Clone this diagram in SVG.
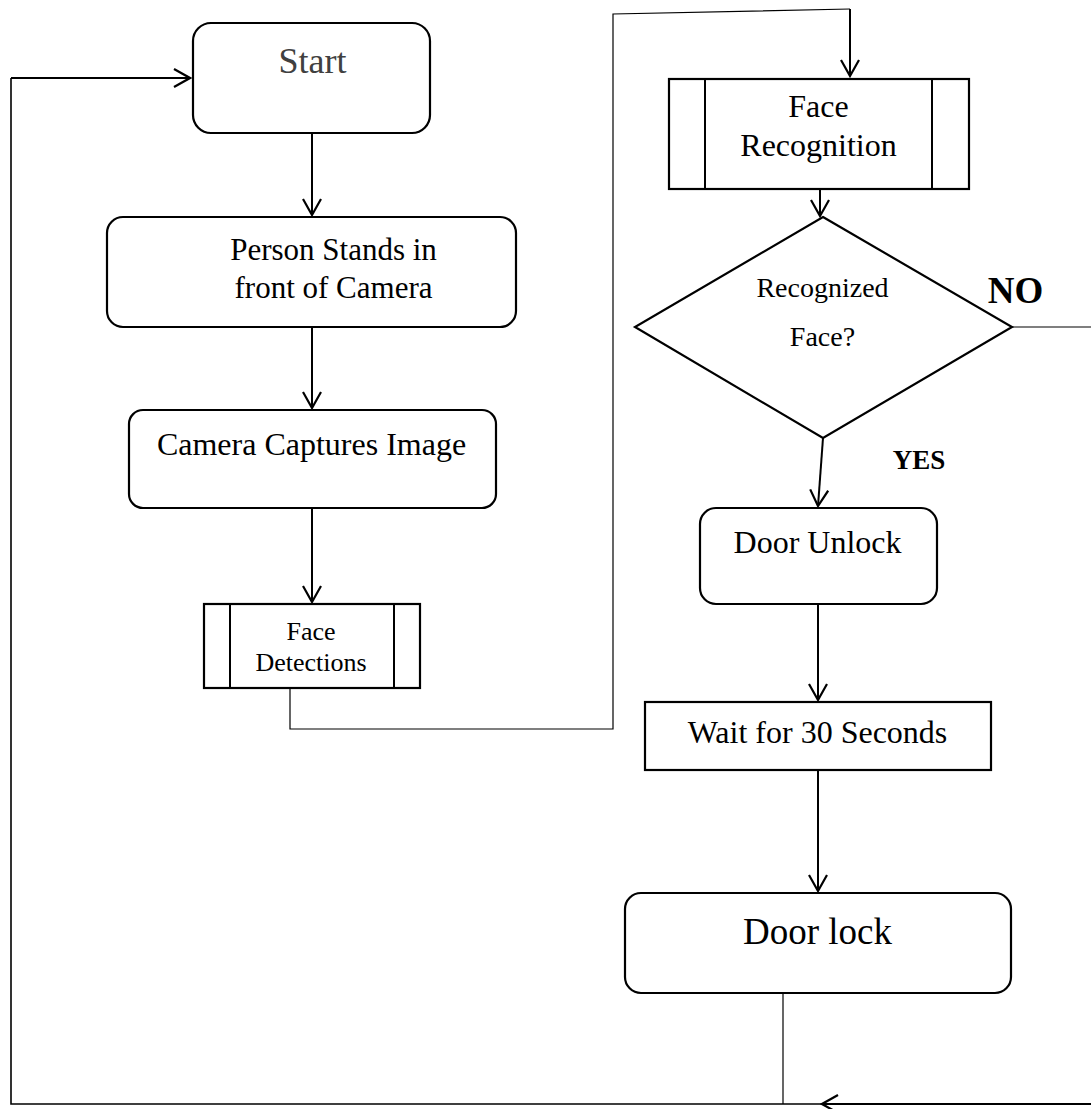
<svg xmlns="http://www.w3.org/2000/svg" width="1091" height="1109" viewBox="0 0 1091 1109">
<style>
.box{fill:#fff;stroke:#000;stroke-width:2.2}
.t{font-family:"Liberation Serif","Times New Roman",serif;text-anchor:middle;fill:#000}
.c{fill:none;stroke:#000;stroke-width:2}
.thin{fill:none;stroke:#000;stroke-width:1.2}
</style>
<defs>
<marker id="ah" viewBox="0 0 20 20" refX="18" refY="10" markerWidth="20" markerHeight="20" markerUnits="userSpaceOnUse" orient="auto">
<path d="M2,1 L18,10 L2,19" fill="none" stroke="#000" stroke-width="2.2"/>
</marker>
</defs>
<rect width="1091" height="1109" fill="#fff"/>
<g id="connectors">
<path class="c" d="M312,133 V215" marker-end="url(#ah)"/>
<path class="c" d="M312,327 V408" marker-end="url(#ah)"/>
<path class="c" d="M312,508 V602" marker-end="url(#ah)"/>
<path class="thin" d="M290,688 V729 H613 V14 L850,9"/>
<path class="c" d="M850,9 V76" marker-end="url(#ah)"/>
<path class="c" d="M820,189 V216" marker-end="url(#ah)"/>
<path class="c" d="M823,438 L818,506" marker-end="url(#ah)"/>
<path class="c" d="M818,604 V700" marker-end="url(#ah)"/>
<path class="c" d="M818,770 V891" marker-end="url(#ah)"/>
<path class="thin" d="M1012,327 H1091"/>
<path class="thin" d="M783,993 V1104"/>
<path class="c" d="M1091,1104 H822" marker-end="url(#ah)"/>
<path class="c" style="stroke-width:1.6" d="M822,1104 H11 V78"/>
<path class="c" d="M11,78 H190" marker-end="url(#ah)"/>
</g>
<g id="start">
<rect class="box" x="193" y="23" width="237" height="110" rx="18"/>
<text class="t" x="312.5" y="73" font-size="36" style="fill:#404040">Start</text>
</g>
<g id="person">
<rect class="box" x="107" y="217" width="409" height="110" rx="16"/>
<text class="t" x="333.5" y="260" font-size="31">Person Stands in</text>
<text class="t" x="333.5" y="298" font-size="31">front of Camera</text>
</g>
<g id="camera">
<rect class="box" x="129" y="410" width="367" height="98" rx="14"/>
<text class="t" x="311.5" y="455" font-size="32">Camera Captures Image</text>
</g>
<g id="detect">
<rect class="box" x="204" y="604" width="216" height="84"/>
<path class="c" d="M230,604 V688 M394,604 V688"/>
<text class="t" x="311" y="640" font-size="26">Face</text>
<text class="t" x="311" y="671" font-size="26">Detections</text>
</g>
<g id="recog">
<rect class="box" x="669" y="79" width="300" height="110"/>
<path class="c" d="M705,79 V189 M932,79 V189"/>
<text class="t" x="818.5" y="117" font-size="32">Face</text>
<text class="t" x="818.5" y="156" font-size="32">Recognition</text>
</g>
<g id="decision">
<polygon class="box" points="823,217 1012,327 823,438 635,327"/>
<text class="t" x="822.5" y="297" font-size="28">Recognized</text>
<text class="t" x="822.5" y="346" font-size="28">Face?</text>
<text class="t" x="1015.5" y="303" font-size="37" font-weight="bold">NO</text>
<text class="t" x="919" y="469" font-size="27" font-weight="bold">YES</text>
</g>
<g id="unlock">
<rect class="box" x="700" y="508" width="237" height="96" rx="16"/>
<text class="t" x="817.5" y="553" font-size="32">Door Unlock</text>
</g>
<g id="wait">
<rect class="box" x="645" y="702" width="346" height="68"/>
<text class="t" x="817.5" y="743" font-size="32">Wait for 30 Seconds</text>
</g>
<g id="lock">
<rect class="box" x="625" y="893" width="386" height="100" rx="16"/>
<text class="t" x="817.5" y="944" font-size="37">Door lock</text>
</g>
</svg>
